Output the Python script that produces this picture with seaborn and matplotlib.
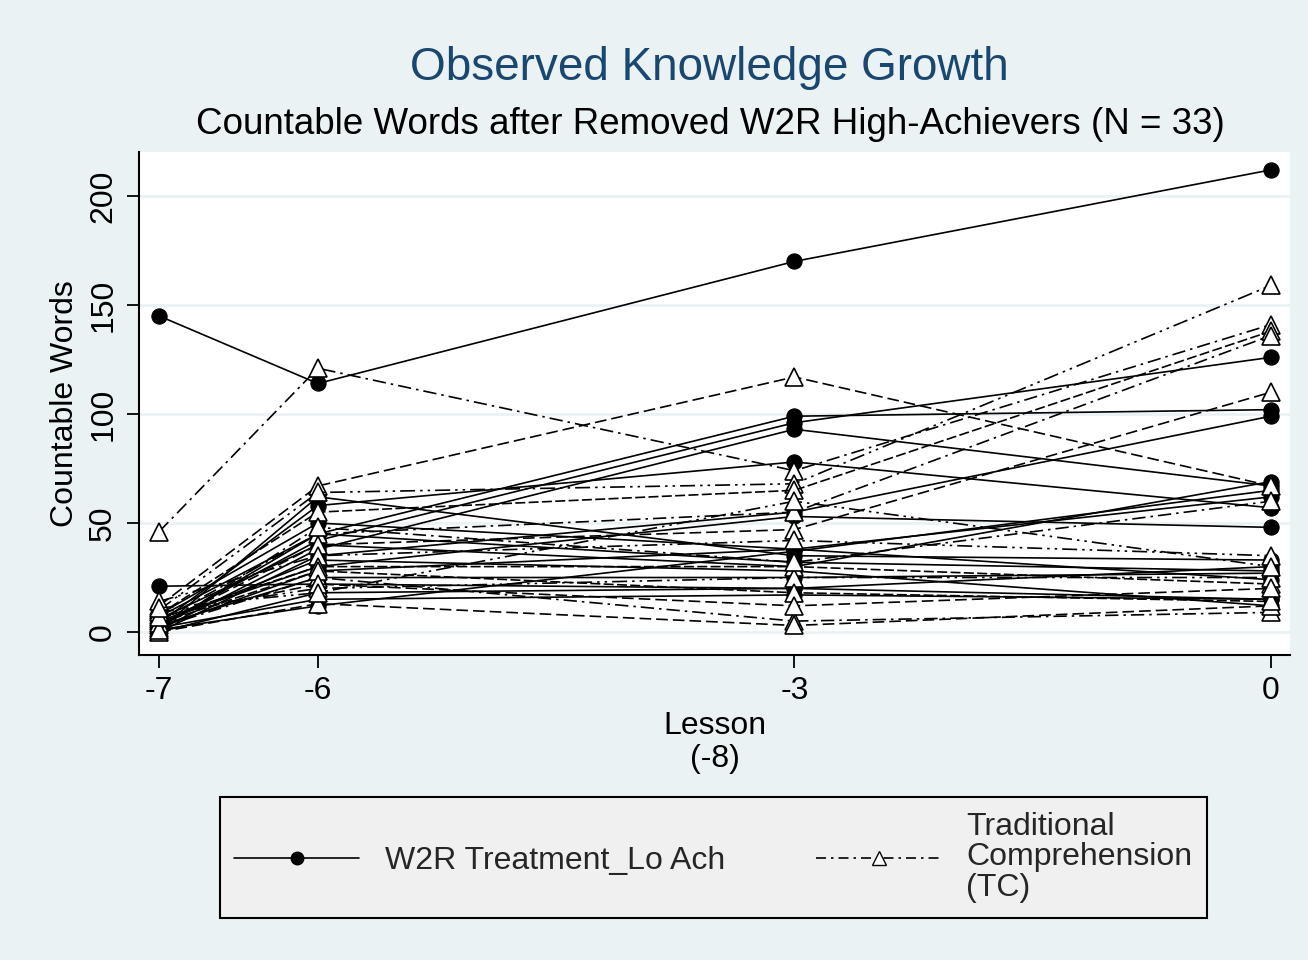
import matplotlib
matplotlib.use("Agg")
import matplotlib.pyplot as plt
from matplotlib.lines import Line2D
import seaborn as sns
import pandas as pd

# Lesson positions (relative to lesson 8)
lessons = [-7, -6, -3, 0]

# Countable words per student at each lesson: W2R treatment, low achievers
w2r_scores = [
    [145, 114, 170, 212],
    [21, 22, 20, 15],
    [2, 45, 99, 102],
    [3, 42, 96, 126],
    [1, 38, 93, 67],
    [4, 58, 78, 57],
    [0, 35, 55, 99],
    [5, 30, 53, 48],
    [2, 28, 38, 62],
    [1, 62, 35, 33],
    [6, 40, 30, 69],
    [3, 25, 25, 27],
    [0, 18, 20, 30],
    [8, 50, 38, 24],
    [2, 15, 17, 15],
    [4, 33, 28, 12],
    [1, 12, 37, 65],
    [7, 45, 32, 28],
]

# Countable words per student at each lesson: traditional comprehension
tc_scores = [
    [46, 121, 74, 141],
    [12, 67, 117, 67],
    [10, 64, 68, 159],
    [8, 55, 65, 138],
    [5, 45, 55, 136],
    [3, 40, 47, 110],
    [14, 35, 42, 35],
    [6, 30, 30, 22],
    [2, 25, 5, 9],
    [0, 13, 3, 12],
    [9, 20, 25, 25],
    [4, 28, 18, 14],
    [1, 48, 32, 60],
    [7, 22, 12, 20],
    [11, 18, 60, 30],
]

group_labels = ["W2R Treatment_Lo Ach", "Traditional\nComprehension\n(TC)"]

rows = []
for i, series in enumerate(w2r_scores):
    for lesson, val in zip(lessons, series):
        rows.append({"student": f"w{i}", "group": group_labels[0], "lesson": lesson, "words": val})
for i, series in enumerate(tc_scores):
    for lesson, val in zip(lessons, series):
        rows.append({"student": f"t{i}", "group": group_labels[1], "lesson": lesson, "words": val})
df = pd.DataFrame(rows)

# Per-student line patterns: solid for W2R, assorted dashes for TC
tc_patterns = [(8, 3, 1.5, 3), (7, 3), (9, 3, 1.5, 3, 1.5, 3), (6, 2)]
dashes = {}
markers = {}
for s in df["student"].unique():
    if s.startswith("w"):
        dashes[s] = ""
        markers[s] = "o"
    else:
        k = int(s[1:])
        dashes[s] = tc_patterns[k % len(tc_patterns)]
        markers[s] = "^"

sns.set_theme(style="white")
plt.rcParams["font.family"] = ["Liberation Sans", "DejaVu Sans"]

bg = "#EAF2F3"
fig = plt.figure(figsize=(13.08, 9.6), dpi=100, facecolor=bg)
ax = fig.add_axes([139 / 1308, 1 - 655 / 960, (1290 - 139) / 1308, (655 - 152) / 960])
ax.set_facecolor("white")

sns.lineplot(
    data=df, x="lesson", y="words", hue="student", style="student",
    palette={s: "black" for s in df["student"].unique()},
    dashes=dashes, markers=markers, estimator=None, units="student",
    linewidth=1.2, markersize=11, markeredgecolor="black",
    legend=False, ax=ax, sort=False,
)
for ln in ax.lines:
    if ln.get_marker() == "^":
        ln.set_markerfacecolor("white")
        ln.set_markersize(13)
        ln.set_markeredgewidth(1.2)

ax.set_xlim(-7.126, 0.12)
ax.set_ylim(-10.55, 220.2)
ax.set_xticks(lessons)
ax.set_xticklabels([str(v) for v in lessons])
ax.set_yticks([0, 50, 100, 150, 200])
ax.set_yticklabels(["0", "50", "100", "150", "200"], rotation=90, va="center")
ax.yaxis.grid(True, color=bg, linewidth=2)
ax.set_axisbelow(True)
for side in ["top", "right"]:
    ax.spines[side].set_visible(False)
for side in ["left", "bottom"]:
    ax.spines[side].set_color("black")
    ax.spines[side].set_linewidth(1.5)
ax.tick_params(axis="both", direction="out", length=9, width=1.3, colors="black",
               labelsize=23, bottom=True, left=True, pad=6)

ax.set_xlabel("Lesson\n(-8)", fontsize=23, color="black", labelpad=4, linespacing=1.1)
ax.set_ylabel("Countable Words", fontsize=23, color="black", labelpad=6)

fig.text(709 / 1308, 1 - 68 / 960, "Observed Knowledge Growth", ha="center", va="center",
         fontsize=33, color="#1a476f")
fig.text(710 / 1308, 1 - 124 / 960, "Countable Words after Removed W2R High-Achievers (N = 33)",
         ha="center", va="center", fontsize=26.5, color="black")

handles = [
    Line2D([], [], color="black", linewidth=1.2, marker="o", markersize=9,
           markerfacecolor="black"),
    Line2D([], [], color="black", linewidth=1.2, linestyle=(0, (6, 3, 1.5, 3)), marker="^",
           markersize=10, markerfacecolor="white", markeredgecolor="black"),
]
leg = fig.legend(
    handles, group_labels, ncol=2, loc="center",
    bbox_to_anchor=(220 / 1308, 1 - 920 / 960, 987 / 1308, 125 / 960), mode="expand",
    borderaxespad=0, fontsize=23, handlelength=3.9, handletextpad=0.8, columnspacing=2,
    frameon=True, fancybox=False, edgecolor="black", facecolor="#F0F0F0",
    borderpad=0.45, labelspacing=0.2,
)
leg.get_frame().set_linewidth(1.5)
leg.get_frame().set_alpha(1)
for t in leg.get_texts():
    t.set_linespacing(1.03)

fig.savefig("out.png", dpi=100, facecolor=bg)
